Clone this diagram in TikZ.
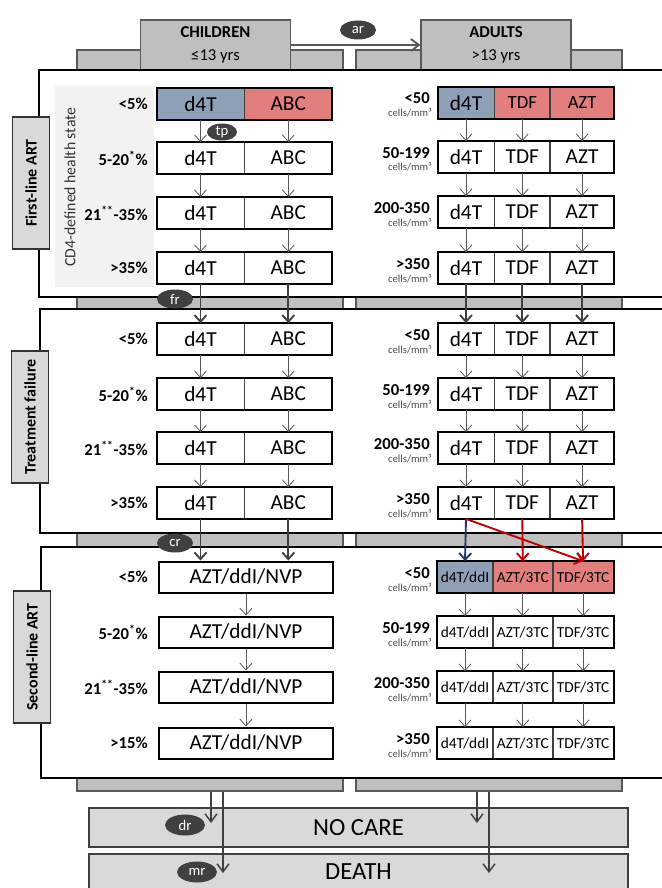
\documentclass[tikz,border=0pt]{standalone}
\usepackage{fontspec}
\setmainfont{Carlito}
\usetikzlibrary{shapes.geometric, arrows.meta, positioning}
\definecolor{hdrgray}{RGB}{191,191,191}
\definecolor{lblgray}{RGB}{217,217,217}
\definecolor{cdgray}{RGB}{242,242,242}
\definecolor{linegray}{RGB}{89,89,89}
\definecolor{ovalgray}{RGB}{64,64,64}
\definecolor{cellblue}{RGB}{142,160,182}
\definecolor{cellred}{RGB}{226,126,126}
\definecolor{arrowred}{RGB}{192,0,0}
\definecolor{arrowblue}{RGB}{31,56,100}
\newdimen\pxu \pxu=0.75pt

\begin{document}
\begin{tikzpicture}[x=0.75pt, y=-0.75pt,
        cell/.style={draw=black!75, line width=0.6pt, inner sep=0pt,
                     minimum height=31\pxu, font=\fontsize{16}{18}\selectfont},
        rowbox/.style={draw=black, line width=1.5pt},
        pct/.style={font=\bfseries\fontsize{12.5}{14}\selectfont, inner sep=0pt},
        unit/.style={font=\fontsize{8}{9}\selectfont, text=black!70, inner sep=0pt},
        panel/.style={draw=black, line width=0.8pt, fill=white},
        bar/.style={draw=linegray, line width=0.8pt, fill=hdrgray},
        sidebox/.style={draw=black!80, line width=0.8pt, fill=lblgray, rotate=90,
                        minimum width=132\pxu, minimum height=37\pxu, inner sep=0pt,
                        font=\bfseries\fontsize{12}{14}\selectfont},
        hdr/.style={draw=linegray, line width=0.8pt, fill=hdrgray, align=center,
                    minimum width=150\pxu, minimum height=50\pxu, inner sep=0pt,
                    font=\fontsize{12.5}{17}\selectfont},
        oval/.style={ellipse, fill=ovalgray, text=white, inner sep=0pt,
                     minimum width=36\pxu, minimum height=19\pxu,
                     font=\fontsize{11}{12}\selectfont},
        endbox/.style={draw=ovalgray, line width=0.8pt, fill=lblgray,
                       minimum width=539\pxu, inner sep=0pt,
                       font=\fontsize{18.5}{20}\selectfont},
        flow/.style={-{Straight Barb[length=5pt, width=9pt]}, draw=linegray, line width=0.6pt},
        jump/.style={-{Straight Barb[length=5pt, width=9pt]}, draw=ovalgray, line width=1.4pt},
        outarrow/.style={-{Straight Barb[length=6pt, width=9pt]}, draw=ovalgray, line width=1.1pt}
      ]
        \useasboundingbox (0,0) rectangle (661,888);
        % gray bars between the panels
        \foreach \t/\b [count=\i] in {50/70, 297/309, 533/547, 778/791} {
          \node[bar, minimum width=266\pxu, minimum height={(\b-\t)*\pxu}, inner sep=0pt]
                (cbar\i) at (210,{(\t+\b)/2}) {};
          \node[bar, minimum width=266\pxu, minimum height={(\b-\t)*\pxu}, inner sep=0pt]
                (abar\i) at (489,{(\t+\b)/2}) {};
        }
        % header
        \node[hdr] (children) at (215.5,45) {\textbf{CHILDREN}\\≤13 yrs};
        \node[hdr] (adults)   at (496,45)   {\textbf{ADULTS}\\>13 yrs};
        \draw[-{Straight Barb[length=6pt, width=9pt]}, draw=linegray, line width=1.4pt]
              (children.east) -- (adults.west);
        \node[oval] (ar) at (358,30) {ar};

        % panels
        \draw[panel] (39,70)  rectangle (670,297);
        \draw[panel] (40,309) rectangle (670,533);
        \draw[panel] (41,547) rectangle (670,778);
        \fill[cdgray] (55,86) rectangle (154,287);
        \node[rotate=90, text=black!80, font=\fontsize{11.8}{13}\selectfont] (cd4) at (70,187)
              {CD4-defined health state};
        \node[sidebox] (first)  at (31,183) {First-line ART};
        \node[sidebox] (fail)   at (30,417) {Treatment failure};
        \node[sidebox] (second) at (32,657) {Second-line ART};

        % first-line ART and treatment failure, children
        \foreach \p/\r/\y/\fa/\fb/\lab in {f/1/104/cellblue/cellred/{<5\%},
                  f/2/158/white/white/{5-20\textsuperscript{*}\%},
                  f/3/213/white/white/{21\textsuperscript{**}-35\%},
                  f/4/268/white/white/{>35\%},
                  t/1/339/white/white/{<5\%},
                  t/2/394/white/white/{5-20\textsuperscript{*}\%},
                  t/3/448/white/white/{21\textsuperscript{**}-35\%},
                  t/4/503/white/white/{>35\%}} {
          \node[pct, anchor=east] (\p cl\r) at (148,\y) {\lab};
          \node[cell, fill=\fa, minimum width=87\pxu] (\p ca\r) at (200.5,\y) {d4T};
          \node[cell, fill=\fb, minimum width=87\pxu, right=0pt of \p ca\r] (\p cb\r) {ABC};
          \draw[rowbox] (\p ca\r.north west) rectangle (\p cb\r.south east);
        }
        % first-line ART and treatment failure, adults
        \foreach \p/\r/\y/\fa/\fb/\tf/\lab in {f/1/103/cellblue/cellred/14/{<50},
                  f/2/157/white/white/16/{50-199},
                  f/3/212/white/white/16/{200-350},
                  f/4/268/white/white/16/{>350},
                  t/1/339/white/white/16/{<50},
                  t/2/394/white/white/16/{50-199},
                  t/3/448/white/white/16/{200-350},
                  t/4/503/white/white/16/{>350}} {
          \node[pct, anchor=base east] (\p al\r) at (430,\y+1) {\lab};
          \node[unit, anchor=base east] (\p au\r) at (432,\y+14) {cells/mm³};
          \node[cell, fill=\fa, minimum width=56\pxu] (\p aa\r) at (466,\y) {d4T};
          \node[cell, fill=\fb, minimum width=55\pxu, font=\fontsize{\tf}{18}\selectfont,
                right=0pt of \p aa\r] (\p ab\r) {TDF};
          \node[cell, fill=\fb, minimum width=63\pxu, font=\fontsize{\tf}{18}\selectfont,
                right=0pt of \p ab\r] (\p ac\r) {AZT};
          \draw[rowbox] (\p aa\r.north west) rectangle (\p ac\r.south east);
        }
        % second-line ART
        \foreach \r/\y/\fa/\fb/\clab/\alab in {1/577/cellblue/cellred/{<5\%}/{<50},
                  2/632/white/white/{5-20\textsuperscript{*}\%}/{50-199},
                  3/687/white/white/{21\textsuperscript{**}-35\%}/{200-350},
                  4/743/white/white/{>15\%}/{>350}} {
          \node[pct, anchor=east] (scl\r) at (148,\y) {\clab};
          \node[cell, rowbox, minimum width=174\pxu] (sc\r) at (246,\y) {AZT/ddI/NVP};
          \node[pct, anchor=base east] (sal\r) at (430,\y+1) {\alab};
          \node[unit, anchor=base east] (sau\r) at (432,\y+14) {cells/mm³};
          \node[cell, fill=\fa, minimum width=55\pxu, font=\fontsize{11.5}{13}\selectfont]
                (saa\r) at (465,\y) {d4T/ddI};
          \node[cell, fill=\fb, minimum width=59\pxu, font=\fontsize{11.5}{13}\selectfont,
                right=0pt of saa\r] (sab\r) {AZT/3TC};
          \node[cell, fill=\fb, minimum width=60\pxu, font=\fontsize{11.5}{13}\selectfont,
                right=0pt of sab\r] (sac\r) {TDF/3TC};
          \draw[rowbox] (saa\r.north west) rectangle (sac\r.south east);
        }

        % arrows inside the panels
        \foreach \r/\s in {1/2, 2/3, 3/4} {
          \foreach \c in {fca, fcb, faa, fab, fac, tca, tcb, taa, tab, tac, saa, sab, sac}
            \draw[flow] (\c\r.south) -- (\c\s.north);
          \draw[flow] (sc\r.south) -- (sc\s.north);
        }
        \node[oval, minimum width=30\pxu, minimum height=17\pxu] (tp) at (222,132) {tp};

        % arrows between the panels
        \foreach \c in {ca, cb, aa, ab, ac}
          \draw[jump] (f\c4.south) -- (t\c1.north);
        \draw[jump] (tca4.south) -- (tca4.south |- sc1.north);
        \draw[jump] (tcb4.south) -- (tcb4.south |- sc1.north);
        \draw[jump, draw=arrowblue] (taa4.south) -- (saa1.north);
        \draw[jump, draw=arrowred]  (tab4.south) -- (sab1.north);
        \draw[jump, draw=arrowred]  (tac4.south) -- (sac1.north);
        \draw[jump, draw=arrowred]  (taa4.south) -- (sac1.north);
        \node[oval] (fr) at (175,299) {fr};
        \node[oval] (cr) at (175,543) {cr};

        % no care and death
        \node[endbox, minimum height=39\pxu] (nocare) at (358.5,827.5) {NO CARE};
        \node[endbox, minimum height=36\pxu] (death)  at (358.5,872)   {DEATH};
        \coordinate (cdr) at (211,823);
        \coordinate (cmr) at (223,873);
        \coordinate (adr) at (477,823);
        \coordinate (amr) at (489,873);
        \draw[outarrow] (cbar4.south -| cdr) -- (cdr);
        \draw[outarrow] (cbar4.south -| cmr) -- (cmr);
        \draw[outarrow] (abar4.south -| adr) -- (adr);
        \draw[outarrow] (abar4.south -| amr) -- (amr);
        \node[oval, minimum width=40\pxu, minimum height=21\pxu] (dr) at (185,825) {dr};
        \node[oval, minimum width=40\pxu, minimum height=21\pxu] (mr) at (197,872) {mr};
      \end{tikzpicture}
\end{document}
